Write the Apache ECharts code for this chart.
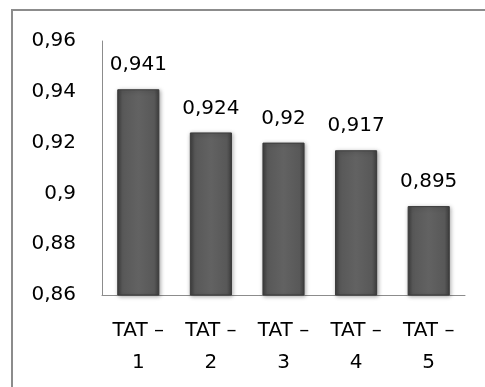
<!DOCTYPE html>
<html>
<head>
<meta charset="utf-8">
<script src="https://cdn.jsdelivr.net/npm/echarts@6/dist/echarts.min.js"></script>
<style>
  html, body { margin: 0; padding: 0; background: #fff; }
  #chart { width: 485px; height: 387px; }
</style>
</head>
<body>
<div id="chart"></div>
<script>
// Category names and scores per TAT variant
const categories = ['TAT – 1', 'TAT – 2', 'TAT – 3', 'TAT – 4', 'TAT – 5'];
const values = [0.941, 0.924, 0.92, 0.917, 0.895];
// Value axis range
const yMin = 0.86;
const yMax = 0.96;
const yStep = 0.02;

const fmt = v => String(parseFloat(Number(v).toFixed(3))).replace('.', ',');
const FONT = '"DejaVu Sans", "Open Sans", sans-serif';

const chart = echarts.init(document.getElementById('chart'), null, { renderer: 'canvas' });

chart.setOption({
  animation: false,
  backgroundColor: '#ffffff',
  graphic: [{
    type: 'rect',
    shape: { x: 12, y: 10, width: 490, height: 400 },
    style: { fill: 'none', stroke: '#8c8c8c', lineWidth: 2 },
    silent: true
  }],
  grid: { left: 102, right: 20, top: 41, bottom: 92 },
  xAxis: {
    type: 'category',
    data: categories,
    axisLine: { show: true, lineStyle: { color: '#8c8c8c', width: 1 } },
    axisTick: { show: false },
    axisLabel: {
      color: '#000',
      fontFamily: FONT,
      fontSize: 20,
      lineHeight: 32,
      margin: 20,
      interval: 0,
      formatter: s => s.replace(/ (\d+)$/, '\n$1')
    },
    splitLine: { show: false }
  },
  yAxis: {
    type: 'value',
    min: yMin,
    max: yMax,
    interval: yStep,
    axisLine: { show: true, lineStyle: { color: '#8c8c8c', width: 1 } },
    axisTick: { show: false },
    splitLine: { show: false },
    axisLabel: {
      color: '#000',
      fontFamily: FONT,
      fontSize: 20,
      margin: 26,
      formatter: fmt
    }
  },
  series: [{
    type: 'bar',
    data: values,
    barWidth: '58%',
    itemStyle: {
      color: new echarts.graphic.LinearGradient(0, 0, 1, 0, [
        { offset: 0, color: '#3e3e3e' },
        { offset: 0.12, color: '#585858' },
        { offset: 0.5, color: '#626262' },
        { offset: 0.88, color: '#585858' },
        { offset: 1, color: '#3e3e3e' }
      ]),
      borderColor: '#3a3a3a',
      borderWidth: 1,
      shadowColor: 'rgba(0,0,0,0.35)',
      shadowBlur: 4,
      shadowOffsetX: 1,
      shadowOffsetY: 1
    },
    label: {
      show: true,
      position: 'top',
      distance: 14,
      color: '#000',
      fontFamily: FONT,
      fontSize: 20,
      formatter: p => fmt(p.value)
    }
  }]
});
</script>
</body>
</html>
